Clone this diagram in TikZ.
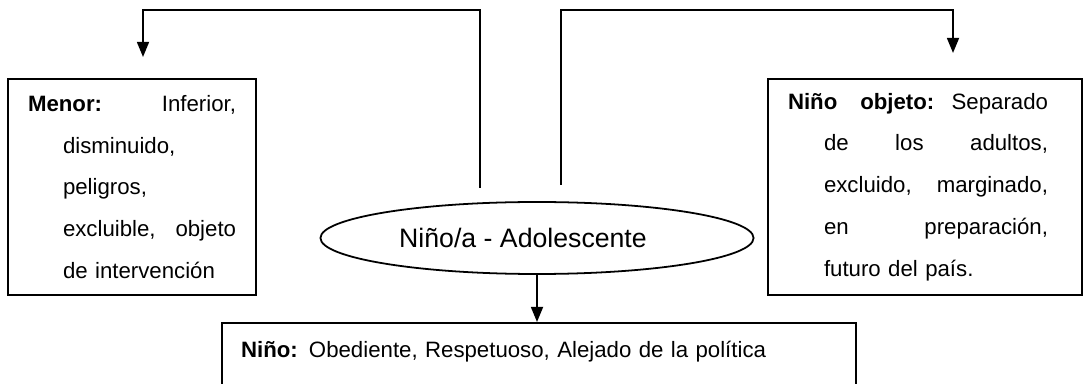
\documentclass[tikz,border=0pt]{standalone}
\usepackage{fontspec}
\setmainfont{Liberation Sans}
\usetikzlibrary{shapes.geometric,arrows.meta}

\tikzset{
    box/.style={draw,line width=0.9pt,inner ysep=0pt,align=left,
        font=\fontsize{10pt}{18.8pt}\selectfont},
    link/.style={line width=0.8pt},
    arr/.style={link,-{Triangle[width=5.4pt,length=6.8pt]}}
}

\begin{document}
\begin{tikzpicture}[x=0.45pt,y=-0.45pt]
    \useasboundingbox (0,0) rectangle (1084,384);
    \clip (0,0) rectangle (1084,384);

    %Ellipse
    \node[draw,ellipse,line width=0.8pt,minimum width=194.9pt,minimum height=32.4pt,
        inner sep=0pt,font=\fontsize{12pt}{14pt}\selectfont] (nina) at (537,238)
        {Niño/a - Adolescente\hspace*{12.6pt}};

    %Menor Box
    \node[box,inner xsep=9pt,text width=93.6pt,minimum width=111.6pt,minimum height=97.2pt] (menor) at (132,187)
        {\makebox[93.6pt]{\textbf{Menor:}\hfill Inferior,}\\
         \hspace*{15.75pt}disminuido,\\
         \hspace*{15.75pt}peligros,\\
         \hspace*{15.75pt}\makebox[77.9pt]{excluible,\hfill objeto}\\
         \hspace*{15.75pt}de intervención};

    %Objeto Box
    \node[box,inner xsep=9pt,text width=123.3pt,minimum width=141.3pt,minimum height=97.2pt] (objeto) at (925,187)
        {\makebox[117pt]{\textbf{Niño}\hspace{0pt plus 2.5fill} \textbf{objeto:}\hspace{0pt plus 1fill} Separado}\\
         \hspace*{16.2pt}\makebox[100.8pt]{de\hfill los\hfill adultos,}\\
         \hspace*{16.2pt}\makebox[100.8pt]{excluido,\hfill marginado,}\\
         \hspace*{16.2pt}\makebox[100.8pt]{en\hfill preparación,}\\
         \hspace*{16.2pt}futuro del país.};

    %Nino Box
    \node[box,anchor=north west,inner xsep=8.6pt,text width=268.1pt,minimum width=285.3pt,
        text height=15.3pt,text depth=30pt] (nino) at (221,322)
        {\textbf{Niño:} Obediente, Respetuoso, Alejado de la política};

    %Connectors
    \coordinate (lfoot) at (480,188);
    \coordinate (lbend) at (480,10);
    \coordinate (ltip) at (143,57);
    \coordinate (rfoot) at (561,185);
    \coordinate (rbend) at (561,10);
    \coordinate (rtip) at (953,53);

    \draw[arr] (lfoot) -- (lbend) -| (ltip);
    \draw[arr] (rfoot) -- (rbend) -| (rtip);
    \draw[arr] (nina.south) -- (nina.south |- nino.north);
\end{tikzpicture}
\end{document}
